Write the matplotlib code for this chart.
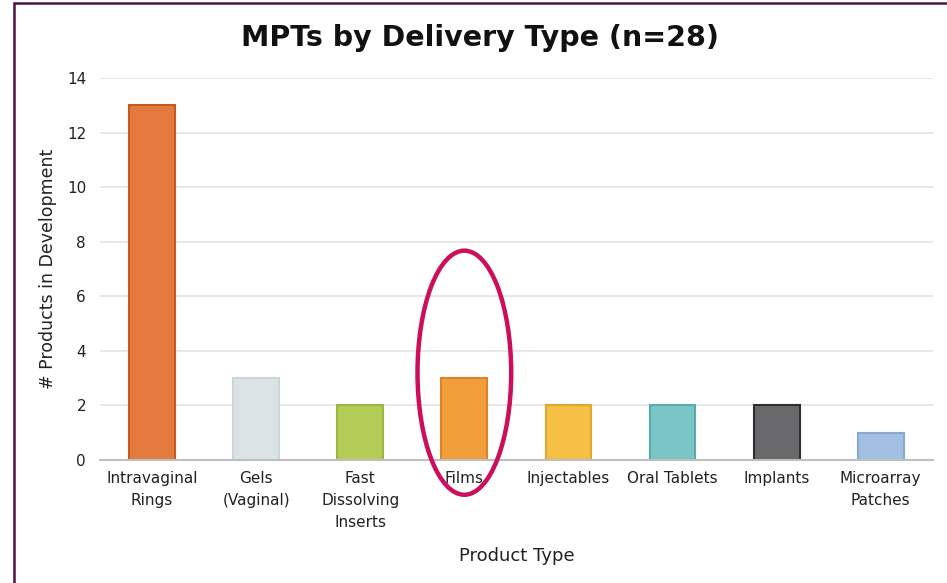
import matplotlib
matplotlib.use("Agg")
import matplotlib.pyplot as plt
from matplotlib.patches import Ellipse, Rectangle

categories = ["Intravaginal\nRings", "Gels\n(Vaginal)", "Fast\nDissolving\nInserts", "Films",
              "Injectables", "Oral Tablets", "Implants", "Microarray\nPatches"]
values = [13, 3, 2, 3, 2, 2, 2, 1]
face_colors = ["#E57A3E", "#DCE3E5", "#B3CC57", "#F29E3A", "#F5C043", "#7AC5C5", "#69696B", "#A3C0E3"]
edge_colors = ["#C45A22", "#CDD6D8", "#9AB540", "#D8842A", "#DDA830", "#5AABAB", "#2E2E2E", "#88A8CF"]
yticks = [0, 2, 4, 6, 8, 10, 12, 14]

plt.rcParams['font.family'] = ['DejaVu Sans']

fig = plt.figure(figsize=(9.47, 5.83), dpi=100)
ax = fig.add_axes([0.1056, 0.211, 0.8794, 0.655])

x = list(range(len(categories)))
ax.bar(x, values, width=0.44, color=face_colors, edgecolor=edge_colors, linewidth=1.5, zorder=3)
ax.set_xlim(-0.5, len(categories) - 0.5)
ax.set_ylim(0, 14)
ax.set_yticks(yticks)
ax.set_xticks(x)
ax.set_xticklabels(categories, fontsize=11, color="#222222", linespacing=1.6)
ax.tick_params(axis='y', labelsize=11, colors="#222222", length=0, pad=10)
ax.tick_params(axis='x', length=0, pad=8)
ax.grid(axis='y', color="#E6E6E6", linewidth=1.3, zorder=0)
for s in ["top", "right", "left"]:
    ax.spines[s].set_visible(False)
ax.spines["bottom"].set_color("#BFBFBF")
ax.spines["bottom"].set_linewidth(1.5)
ax.spines["bottom"].set_zorder(4)

ax.set_ylabel("# Products in Development", fontsize=12.5, color="#222222", labelpad=7)
ax.set_xlabel("Product Type", fontsize=13, color="#222222", labelpad=12)

fig.text(0.507, 0.935, "MPTs by Delivery Type (n=28)", ha="center", va="center",
         fontsize=20.5, fontweight="bold", color="#111111")

ell = Ellipse((3, 3.2), width=0.9, height=8.95, fill=False, edgecolor="#CC0E5C",
              linewidth=3.2, zorder=5, clip_on=False)
ax.add_patch(ell)

border = Rectangle((14 / 947, -0.1), 1.2, 1 - 2.5 / 583 + 0.1, transform=fig.transFigure,
                   fill=False, edgecolor="#4A1444", linewidth=1.8, zorder=10)
fig.patches.append(border)

fig.savefig("out.png", dpi=100)
